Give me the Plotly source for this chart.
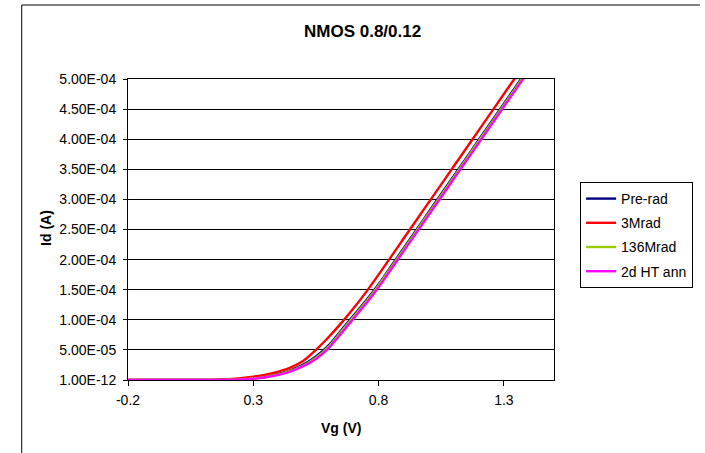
import plotly.graph_objects as go

# ---- data ----
vg = [-0.2, -0.15, -0.1, -0.05, 0.0, 0.05, 0.1, 0.15, 0.2, 0.25, 0.3, 0.35, 0.4, 0.45,
      0.5, 0.55, 0.6, 0.65, 0.7, 0.75, 0.8, 0.85, 0.9, 0.95, 1.0, 1.05, 1.1, 1.15,
      1.2, 1.25, 1.3, 1.35, 1.4, 1.45, 1.5]

id_prerad = [1e-12, 1e-12, 1e-12, 1e-12, 1e-12, 1e-12, 1e-12, 2e-7, 5e-7, 1.2e-6, 2.8e-6,
             5.5e-6, 1.0e-5, 1.65e-5, 2.55e-5, 3.9e-5, 5.7e-5, 8.2e-5, 1.07e-4, 1.32e-4,
             1.59e-4, 1.89e-4, 2.19e-4, 2.49e-4, 2.79e-4, 3.09e-4, 3.39e-4, 3.69e-4,
             3.99e-4, 4.29e-4, 4.59e-4, 4.89e-4, 5.19e-4, 5.49e-4, 5.79e-4]

id_3mrad = [1e-12, 1e-12, 1e-12, 1e-12, 1e-12, 1e-12, 2e-7, 5e-7, 1.5e-6, 3.0e-6, 5.5e-6,
            9.0e-6, 1.4e-5, 2.1e-5, 3.2e-5, 5.0e-5, 7.1e-5, 9.4e-5, 1.19e-4, 1.46e-4,
            1.75e-4, 2.05e-4, 2.35e-4, 2.65e-4, 2.95e-4, 3.25e-4, 3.55e-4, 3.85e-4,
            4.15e-4, 4.45e-4, 4.75e-4, 5.05e-4, 5.35e-4, 5.65e-4, 5.95e-4]

id_136mrad = [1e-12, 1e-12, 1e-12, 1e-12, 1e-12, 1e-12, 1e-12, 2e-7, 4e-7, 1.0e-6, 2.5e-6,
              5.0e-6, 9.2e-6, 1.55e-5, 2.4e-5, 3.7e-5, 5.5e-5, 8.0e-5, 1.05e-4, 1.30e-4,
              1.57e-4, 1.87e-4, 2.17e-4, 2.47e-4, 2.77e-4, 3.07e-4, 3.37e-4, 3.67e-4,
              3.97e-4, 4.27e-4, 4.57e-4, 4.87e-4, 5.17e-4, 5.47e-4, 5.77e-4]

id_ht_ann = [1e-12, 1e-12, 1e-12, 1e-12, 1e-12, 1e-12, 1e-12, 1e-7, 3e-7, 0.8e-6, 2.1e-6,
             4.5e-6, 8.5e-6, 1.45e-5, 2.3e-5, 3.5e-5, 5.25e-5, 7.7e-5, 1.02e-4, 1.27e-4,
             1.54e-4, 1.84e-4, 2.14e-4, 2.44e-4, 2.74e-4, 3.04e-4, 3.34e-4, 3.64e-4,
             3.94e-4, 4.24e-4, 4.54e-4, 4.84e-4, 5.14e-4, 5.44e-4, 5.74e-4]

series_names = ["Pre-rad", "3Mrad", "136Mrad", "2d HT ann"]
series_values = [id_prerad, id_3mrad, id_136mrad, id_ht_ann]
series_colors = ["#000080", "#FF0000", "#99CC00", "#FF00FF"]

x_tickvals = [-0.2, 0.3, 0.8, 1.3]
x_ticktext = ["-0.2", "0.3", "0.8", "1.3"]
y_tickvals = [1e-12, 5e-5, 1e-4, 1.5e-4, 2e-4, 2.5e-4, 3e-4, 3.5e-4, 4e-4, 4.5e-4, 5e-4]
y_ticktext = ["1.00E-12", "5.00E-05", "1.00E-04", "1.50E-04", "2.00E-04", "2.50E-04",
              "3.00E-04", "3.50E-04", "4.00E-04", "4.50E-04", "5.00E-04"]

FONT = "Liberation Sans, Arial, sans-serif"

fig = go.Figure()
for name, vals, col in zip(series_names, series_values, series_colors):
    fig.add_trace(go.Scatter(
        x=vg, y=vals, mode="lines", name=name, legendgroup=name,
        line=dict(color=col, width=2.4, shape="spline", smoothing=0.6),
    ))

L, R, T, B = 128, 136, 79, 73
W, H = 705, 453
pw = W - L - R
ph = H - T - B

def px_x(x):
    return (x - L) / pw

def px_y(y):
    return (H - B - y) / ph

fig.update_layout(
    width=W, height=H,
    margin=dict(l=L, r=R, t=T, b=B, pad=0),
    paper_bgcolor="white", plot_bgcolor="white",
    font=dict(family=FONT, size=14, color="black"),
    showlegend=True,
    legend=dict(
        x=px_x(596), y=px_y(182), xanchor="left", yanchor="top",
        bordercolor="black", borderwidth=1, bgcolor="white",
        font=dict(size=14), tracegroupgap=3,
    ),
    xaxis=dict(
        range=[-0.2, 1.5], tickvals=x_tickvals, ticktext=x_ticktext,
        showgrid=False, zeroline=False, showline=True, linecolor="black", linewidth=1,
        mirror=True, ticks="outside", ticklen=5, tickcolor="black",
        tickfont=dict(size=14), ticklabelstandoff=2,
    ),
    yaxis=dict(
        range=[0, 5e-4], tickvals=y_tickvals, ticktext=y_ticktext,
        showgrid=True, gridcolor="black", gridwidth=1, zeroline=False,
        showline=True, linecolor="black", linewidth=1, mirror=True,
        ticks="outside", ticklen=4, tickcolor="black", tickfont=dict(size=14),
        ticklabelstandoff=4,
    ),
    annotations=[
        dict(text="<b>NMOS 0.8/0.12</b>", xref="paper", yref="paper",
             x=px_x(371), y=px_y(32), xanchor="center", yanchor="middle",
             showarrow=False, font=dict(size=17)),
        dict(text="<b>Vg (V)</b>", xref="paper", yref="paper",
             x=px_x(349), y=px_y(428), xanchor="center", yanchor="middle",
             showarrow=False, font=dict(size=14)),
        dict(text="<b>Id (A)</b>", xref="paper", yref="paper",
             x=px_x(43), y=px_y(228), xanchor="center", yanchor="middle",
             showarrow=False, textangle=-90, font=dict(size=14)),
    ],
    shapes=[
        dict(type="line", xref="paper", yref="paper",
             x0=px_x(18), x1=px_x(720), y0=px_y(5), y1=px_y(5),
             line=dict(color="black", width=1)),
        dict(type="line", xref="paper", yref="paper",
             x0=px_x(18), x1=px_x(18), y0=px_y(5), y1=px_y(460),
             line=dict(color="black", width=1)),
    ],
)

fig.write_html("out.html")
